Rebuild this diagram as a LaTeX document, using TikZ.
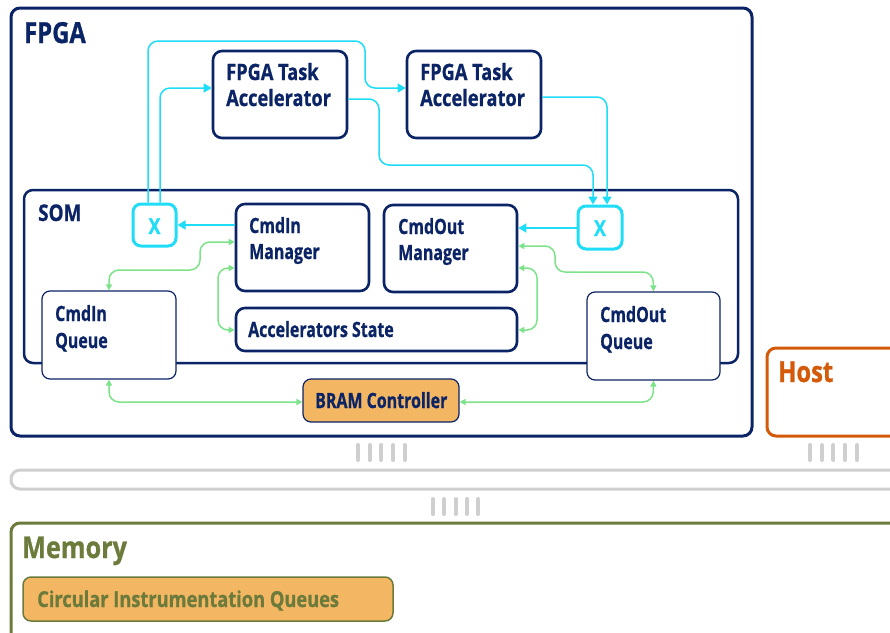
\documentclass[tikz,border=0pt]{standalone}
\usepackage{fontspec}
\setmainfont{Open Sans}[FakeStretch=0.76]
\newfontfamily\fnode{Open Sans}[FakeStretch=0.76, FakeBold=0.8]
\newfontfamily\facc{Open Sans}[FakeStretch=0.81, FakeBold=0.8]
\newfontfamily\ftitle{Open Sans}[FakeStretch=0.82, FakeBold=0.8]
\newfontfamily\fmem{Open Sans}[FakeStretch=0.84, FakeBold=0.8]
\newfontfamily\fcirc{Open Sans}[FakeStretch=0.83, FakeBold=0.8]
\usetikzlibrary{fit,arrows.meta}
\definecolor{navy}{HTML}{0B2466}
\definecolor{cyanc}{HTML}{1FDDF7}
\definecolor{greenc}{HTML}{7DE38A}
\definecolor{orfill}{HTML}{F3B663}
\definecolor{hostc}{HTML}{D45A09}
\definecolor{olive}{HTML}{6C7B3B}
\definecolor{grayc}{HTML}{CFCFCF}
\tikzset{
  bigbox/.style={draw=navy, line width=3pt, rounded corners=9pt, inner sep=0pt, fill=white},
  sombox/.style={draw=navy, line width=2.5pt, rounded corners=9pt, inner sep=0pt, fill=white},
  mbox/.style={draw=navy, line width=2.6pt, rounded corners=9pt, inner sep=0pt, fill=white},
  qbox/.style={draw=navy, line width=1.2pt, rounded corners=8pt, inner sep=0pt, fill=white},
  brbox/.style={draw=navy, line width=1.2pt, rounded corners=8pt, inner sep=0pt, fill=orfill},
  xbox/.style={draw=cyanc, line width=3pt, rounded corners=8pt, inner sep=0pt, fill=white},
  txt/.style={anchor=base west, inner sep=0pt, text=navy, font=\fontsize{21}{26}\selectfont\fnode\bfseries},
  xtxt/.style={anchor=base, inner sep=0pt, text=cyanc, font=\fontsize{22}{26}\selectfont\facc\bfseries},
  acctxt/.style={anchor=base west, inner sep=0pt, text=navy, font=\fontsize{22.5}{26}\selectfont\facc\bfseries},
  ttl/.style={anchor=base west, inner sep=0pt, font=\fontsize{29}{34}\selectfont\ftitle\bfseries},
  cy/.style={draw=cyanc, line width=1.5pt, rounded corners=10pt, -{Triangle[length=8pt,width=9pt]}},
  gr/.style={draw=greenc, line width=1.5pt, rounded corners=10pt, {Triangle[length=6pt,width=6pt]}-{Triangle[length=6pt,width=6pt]}},
  tick/.style={draw=grayc, line width=4pt, line cap=round}
}
\begin{document}
\begin{tikzpicture}[x=1pt,y=-1pt]
\clip (0,0) rectangle (890,632);
\fill[white] (0,0) rectangle (890,632);
% outer boxes
\node[bigbox, fit={(11,8)(752,436)}] (fpga) {};
\node[ttl, text=navy] (tfpga) at (24,43) {FPGA};
\node[draw=hostc, line width=3pt, rounded corners=9pt, inner sep=0pt, fit={(767,348)(910,436)}] (host) {};
\node[ttl, text=hostc] (thost) at (778,382) {Host};
\node[draw=grayc, line width=3pt, rounded corners=9pt, inner sep=0pt, fit={(11,470)(920,489)}] (bus) {};
\node[draw=olive, line width=3pt, rounded corners=9pt, inner sep=0pt, fit={(11,523)(920,660)}] (mem) {};
\node[ttl, text=olive, font=\fontsize{30}{34}\selectfont\fmem\bfseries] (tmem) at (22,558) {Memory};
\node[draw=olive, line width=1.5pt, rounded corners=8pt, inner sep=0pt, fill=orfill, fit={(23,577)(393,621)}] (ciq2) {};
\node[txt, text=olive, font=\fontsize{22}{26}\selectfont\fcirc\bfseries] (tciq2) at (37,607) {Circular Instrumentation Queues};
% ticks
\foreach \i in {0,...,4} {
  \draw[tick] (358+11.7*\i,445) -- (358+11.7*\i,460);
  \draw[tick] (810+11.7*\i,445) -- (810+11.7*\i,460);
  \draw[tick] (433+11.3*\i,499) -- (433+11.3*\i,514);
}
% accelerators
\node[mbox, fit={(213,51)(347,138)}] (acc1) {};
\node[acctxt] (tacc1a) at (226,80) {FPGA Task};
\node[acctxt] (tacc1b) at (226,106) {Accelerator};
\node[mbox, fit={(407,51)(541,138)}] (acc2) {};
\node[acctxt] (tacc2a) at (420,80) {FPGA Task};
\node[acctxt] (tacc2b) at (420,106) {Accelerator};
% SOM
\node[sombox, fit={(24,190)(738,363)}] (som) {};
\node[txt, font=\fontsize{23}{26}\selectfont\ftitle\bfseries] (tsom) at (38,221) {SOM};
\node[mbox, fit={(236,204)(369,291)}] (cim) {};
\node[txt] (tcim1) at (249,233) {CmdIn};
\node[txt] (tcim2) at (249,259) {Manager};
\node[mbox, fit={(384,205)(517,292)}] (com) {};
\node[txt] (tcom1) at (398,234) {CmdOut};
\node[txt] (tcom2) at (398,260) {Manager};
\node[mbox, fit={(236,308)(517,351)}] (ast) {};
\node[txt] (tast) at (248,337) {Accelerators State};
\node[xbox, fit={(133,204)(176,246)}] (lx) {};
\node[xtxt] (tlx) at (154.5,234) {X};
\node[xbox, fit={(578,206)(622,249)}] (rx) {};
\node[xtxt] (trx) at (600,236) {X};
\node[qbox, fit={(42,291)(176,379)}] (ciq) {};
\node[txt] (tciq1) at (55,321) {CmdIn};
\node[txt] (tciq2) at (55,348) {Queue};
\node[qbox, fit={(587,292)(720,380)}] (coq) {};
\node[txt] (tcoq1) at (600,322) {CmdOut};
\node[txt] (tcoq2) at (600,349) {Queue};
\node[brbox, fit={(303,379)(459,422)}] (bram) {};
\node[txt] (tbram) at (315,408) {BRAM Controller};
% cyan connectors
\draw[cy] ([xshift=-6.5pt]lx.north) -- (148,41) -- (365,41) -- (365,88) -- (acc2.west |- 0,88);
\draw[cy] ([xshift=5.5pt]lx.north) -- (160,88) -- (acc1.west |- 0,88);
\draw[cy] (acc1.east |- 0,99) -- (379,99) -- (379,165) -- (593,165) -- ([xshift=-7pt]rx.north);
\draw[cy] (acc2.east |- 0,97) -- (607,97) -- ([xshift=7pt]rx.north);
\draw[cy] (cim.west |- 0,225) -- (lx.east |- 0,225);
\draw[cy] (rx.west |- 0,228) -- (com.east |- 0,228);
% green connectors
\draw[gr] (ciq.north) -- (109,270) -- (200,270) -- (200,242) -- (cim.west |- 0,242);
\draw[gr] (cim.west |- 0,268) -- (218,268) -- (218,330) -- (ast.west |- 0,330);
\draw[gr] (ciq.south) -- (109,402) -- (bram.west |- 0,402);
\draw[gr] (bram.east |- 0,402) -- (653,402) -- (coq.south);
\draw[gr] (com.east |- 0,246) -- (555,246) -- (555,272) -- (653,272) -- (coq.north);
\draw[gr] (com.east |- 0,268) -- (537,268) -- (537,330) -- (ast.east |- 0,330);
\end{tikzpicture}
\end{document}
